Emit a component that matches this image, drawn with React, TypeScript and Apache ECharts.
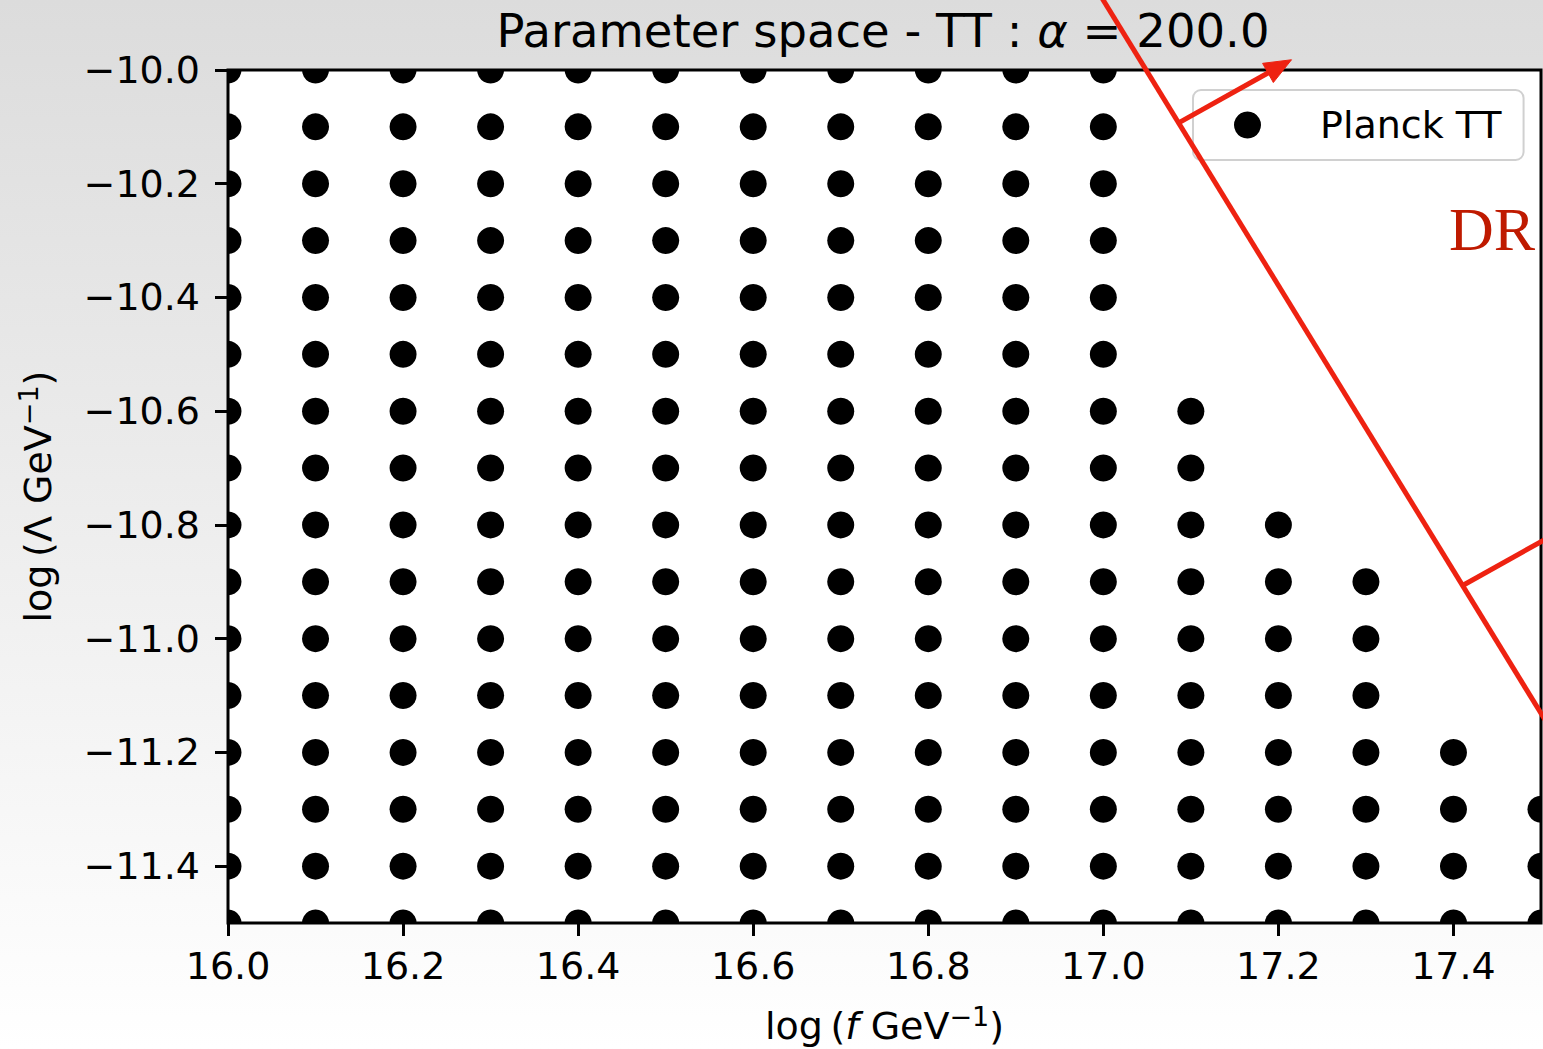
import React, { useEffect, useRef } from "react";
import * as echarts from "echarts";

// ---- data ----
const xValues = [16.0, 16.1, 16.2, 16.3, 16.4, 16.5, 16.6, 16.7, 16.8, 16.9, 17.0, 17.1, 17.2, 17.3, 17.4, 17.5];
const yValues = [-10.0, -10.1, -10.2, -10.3, -10.4, -10.5, -10.6, -10.7, -10.8, -10.9, -11.0, -11.1, -11.2, -11.3, -11.4, -11.5];
// highest (least negative) log Lambda sampled in each column of xValues
const columnTop = [-10.0, -10.0, -10.0, -10.0, -10.0, -10.0, -10.0, -10.0, -10.0, -10.0, -10.0, -10.6, -10.8, -10.9, -11.2, -11.3];
const xTickLabels = [16.0, 16.2, 16.4, 16.6, 16.8, 17.0, 17.2, 17.4];
const yTickLabels = [-10.0, -10.2, -10.4, -10.6, -10.8, -11.0, -11.2, -11.4];
// DR boundary line (two end points) and arrows [x0, y0, x1, y1]
const boundaryLine = [[16.95, -9.752], [17.6, -11.382]];
const arrows = [
  [17.086, -10.093, 17.215, -9.982],
  [17.411, -10.906, 17.54, -10.795],
];
const drLabel = [[17.395, -10.32]];

const points: number[][] = [];
xValues.forEach((x, i) => {
  yValues.forEach((y) => {
    if (y <= columnTop[i] + 1e-9) points.push([x, y]);
  });
});

const FONT = "DejaVu Sans";
const RED = "#ee2211";

export default function App() {
  const ref = useRef<HTMLDivElement>(null);
  useEffect(() => {
    if (!ref.current) return;
    const chart = echarts.init(ref.current, null, { renderer: "svg" });
    const fmt = (v: number) => v.toFixed(1).replace("-", "\u2212");
    chart.setOption({
      animation: false,
      backgroundColor: new echarts.graphic.LinearGradient(0, 0, 0, 1, [
        { offset: 0, color: "#dcdcdc" },
        { offset: 1, color: "#ffffff" },
      ]),
      title: {
        text: "{n|Parameter space - TT : }{i|\u03b1}{n| = 200.0}",
        left: 883,
        top: 7,
        padding: 0,
        textAlign: "center",
        textStyle: {
          fontWeight: "normal",
          fontSize: 46.5,
          fontFamily: FONT,
          rich: {
            n: { fontFamily: FONT, fontSize: 46.5, color: "#000", fontWeight: "normal" },
            i: { fontFamily: FONT, fontSize: 46.5, color: "#000", fontStyle: "italic", fontWeight: "normal" },
          },
        },
      },
      legend: {
        left: 1193,
        top: 90,
        padding: [16, 22, 16, 41],
        backgroundColor: "rgba(255,255,255,0.8)",
        borderColor: "#d0d0d0",
        borderWidth: 2,
        borderRadius: 8,
        itemWidth: 27,
        itemHeight: 27,
        data: [{ name: "Planck TT", icon: "circle", itemStyle: { color: "#000" } }],
        textStyle: { fontFamily: FONT, fontSize: 38, color: "#000", lineHeight: 28, padding: [0, 0, 0, 54] },
        z: 4,
      },
      grid: {
        left: 228,
        top: 70,
        right: 2,
        bottom: 126,
        containLabel: false,
        outerBoundsMode: "none",
        show: true,
        backgroundColor: "#ffffff",
        borderColor: "#000",
        borderWidth: 3,
      },
      xAxis: {
        type: "value",
        min: 16.0,
        max: 17.5,
        interval: 0.1,
        name: "{n|log\u2009(}{i|f}{n| GeV}{s|\u22121}{n|)}",
        nameLocation: "middle",
        nameGap: 80,
        nameMoveOverlap: false,
        nameTextStyle: {
          rich: {
            n: { fontFamily: FONT, fontSize: 38, color: "#000" },
            i: { fontFamily: FONT, fontSize: 38, color: "#000", fontStyle: "italic" },
            s: { fontFamily: FONT, fontSize: 27, color: "#000", padding: [0, 0, 18, 0] },
          },
        },
        axisLine: { show: false },
        splitLine: { show: false },
        axisTick: { show: true, length: 13, inside: false, lineStyle: { color: "#000", width: 3 }, customValues: xTickLabels },
        axisLabel: {
          customValues: xTickLabels,
          formatter: fmt,
          fontFamily: FONT,
          fontSize: 38,
          color: "#000",
          margin: 24,
        },
      },
      yAxis: {
        type: "value",
        min: -11.5,
        max: -10.0,
        interval: 0.1,
        name: "{n|log\u2009(\u039b GeV}{s|\u22121}{n|)}",
        nameLocation: "middle",
        nameRotate: 90,
        nameGap: 168,
        nameMoveOverlap: false,
        nameTextStyle: {
          rich: {
            n: { fontFamily: FONT, fontSize: 38, color: "#000" },
            s: { fontFamily: FONT, fontSize: 27, color: "#000", padding: [0, 0, 18, 0] },
          },
        },
        axisLine: { show: false },
        splitLine: { show: false },
        axisTick: { show: true, length: 13, inside: false, lineStyle: { color: "#000", width: 3 }, customValues: yTickLabels },
        axisLabel: {
          customValues: yTickLabels,
          formatter: fmt,
          fontFamily: FONT,
          fontSize: 38,
          color: "#000",
          margin: 28,
        },
      },
      series: [
        {
          name: "Planck TT",
          type: "custom",
          clip: true,
          data: points,
          itemStyle: { color: "#000" },
          encode: { x: 0, y: 1 },
          renderItem: (params: any, api: any) => {
            const p = api.coord([api.value(0), api.value(1)]);
            return { type: "circle", shape: { cx: p[0], cy: p[1], r: 13.5 }, style: { fill: "#000" } };
          },
          z: 2,
        },
        {
          name: "DR boundary",
          type: "line",
          clip: false,
          data: boundaryLine,
          symbol: "none",
          lineStyle: { color: RED, width: 5 },
          z: 10,
          silent: true,
        },
        {
          name: "DR arrows",
          type: "custom",
          clip: false,
          data: arrows,
          encode: { x: [0, 2], y: [1, 3] },
          z: 10,
          silent: true,
          renderItem: (params: any, api: any) => {
            const a = api.coord([api.value(0), api.value(1)]);
            const b = api.coord([api.value(2), api.value(3)]);
            const dx = b[0] - a[0];
            const dy = b[1] - a[1];
            const len = Math.sqrt(dx * dx + dy * dy);
            const ux = dx / len;
            const uy = dy / len;
            const hl = 27;
            const hw = 11;
            const bx = b[0] - ux * hl;
            const by = b[1] - uy * hl;
            return {
              type: "group",
              children: [
                {
                  type: "line",
                  shape: { x1: a[0], y1: a[1], x2: bx + ux * 2, y2: by + uy * 2 },
                  style: { stroke: RED, lineWidth: 5 },
                },
                {
                  type: "polygon",
                  shape: {
                    points: [
                      [b[0], b[1]],
                      [bx - uy * hw, by + ux * hw],
                      [bx + uy * hw, by - ux * hw],
                    ],
                  },
                  style: { fill: RED, stroke: RED, lineWidth: 1 },
                },
              ],
            };
          },
        },
        {
          name: "DR label",
          type: "custom",
          clip: false,
          data: drLabel,
          encode: { x: 0, y: 1 },
          z: 10,
          silent: true,
          renderItem: (params: any, api: any) => {
            const p = api.coord([api.value(0), api.value(1)]);
            return {
              type: "text",
              x: p[0],
              y: p[1] + 8,
              style: {
                text: "DR",
                fontFamily: "Liberation Serif",
                fontSize: 62,
                fill: "#bf1a00",
                align: "left",
                verticalAlign: "bottom",
              },
            };
          },
        },
      ],
    });
    return () => chart.dispose();
  }, []);
  return (
    <div
      ref={ref}
      style={{ position: "fixed", left: 0, top: 0, width: 1543, height: 1049 }}
    />
  );
}
